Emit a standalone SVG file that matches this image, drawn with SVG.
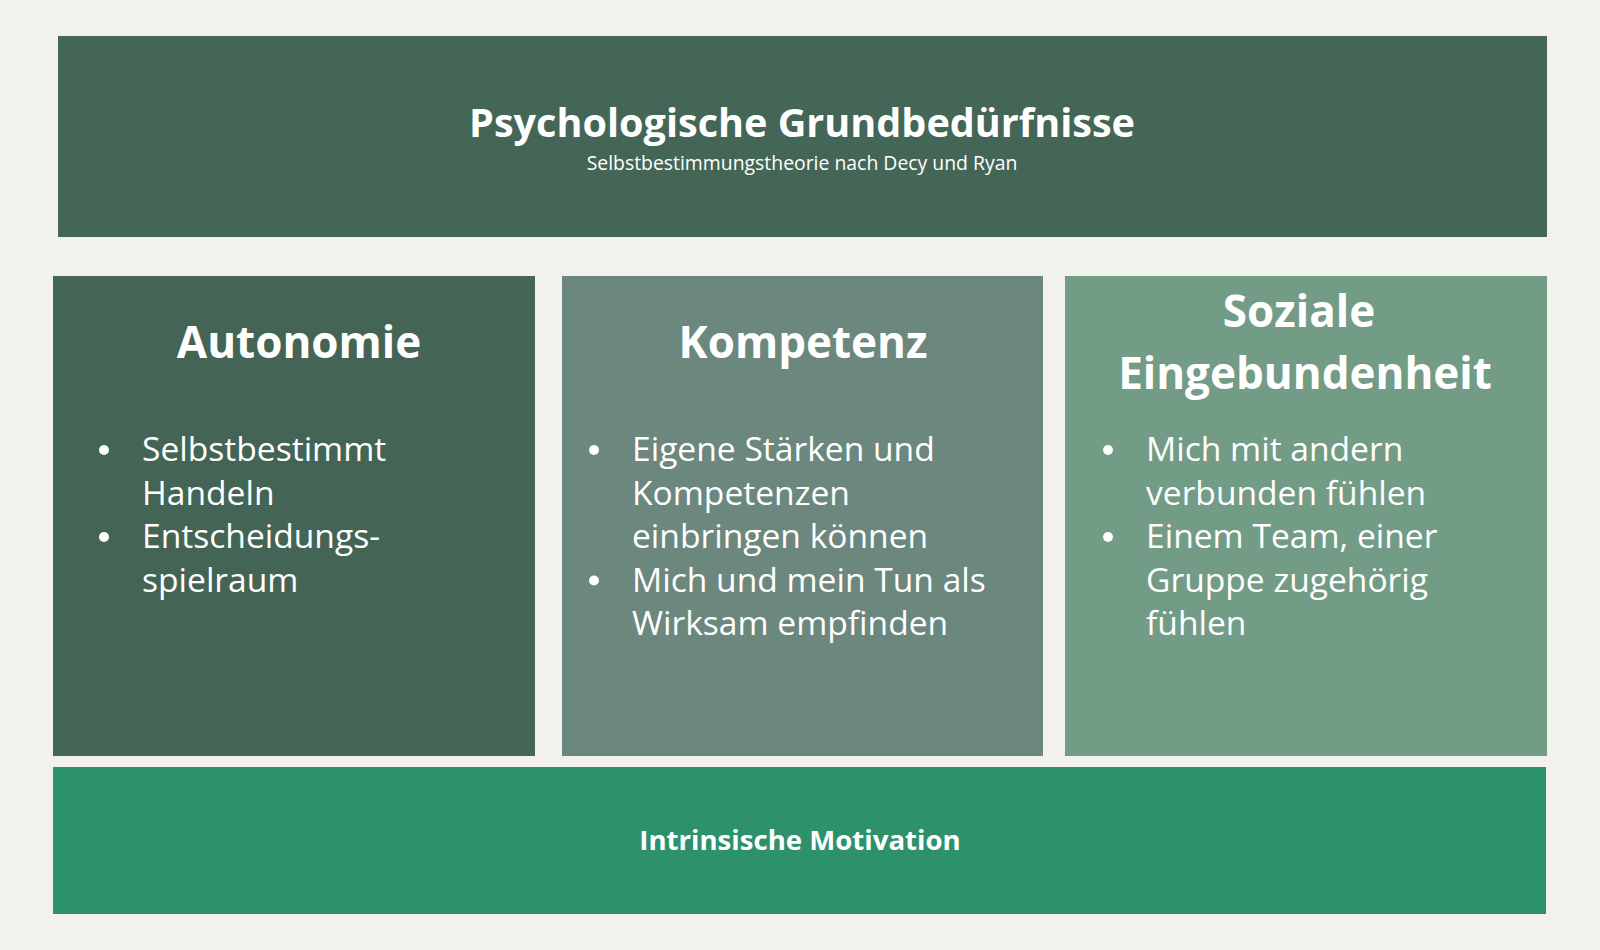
<svg xmlns="http://www.w3.org/2000/svg" width="1600" height="950" viewBox="0 0 1600 950">
  <style>
    .bg { fill: #F2F1EC; }
    .t-title { font-family: "Open Sans", "Noto Sans", "Liberation Sans", sans-serif; font-weight: 700; fill: #FFFFFF; }
    .t-sub { font-family: "Open Sans", "Noto Sans", "Liberation Sans", sans-serif; font-weight: 400; fill: #FFFFFF; }
    .t-head { font-family: "Open Sans", "Noto Sans", "Liberation Sans", sans-serif; font-weight: 700; font-size: 44px; fill: #FFFFFF; text-anchor: middle; }
    .t-body { font-family: "Open Sans", "Noto Sans", "Liberation Sans", sans-serif; font-weight: 400; font-size: 33.6px; fill: #FFFFFF; }
    .bullet { fill: #FFFFFF; }
  </style>
  <rect class="bg" x="0" y="0" width="1600" height="950"/>

  <g id="header">
    <rect x="58" y="36" width="1489" height="201" fill="#446656"/>
    <text class="t-title" x="802" y="137" font-size="39.6" text-anchor="middle">Psychologische Grundbedürfnisse</text>
    <text class="t-sub" x="802" y="170" font-size="19.4" text-anchor="middle">Selbstbestimmungstheorie nach Decy und Ryan</text>
  </g>

  <g id="autonomie">
    <rect x="53" y="276" width="482" height="480" fill="#446555"/>
    <text class="t-head" x="299" y="358">Autonomie</text>
    <circle class="bullet" cx="104" cy="450" r="5"/>
    <circle class="bullet" cx="104" cy="537" r="5"/>
    <text class="t-body" x="142" y="461">Selbstbestimmt</text>
    <text class="t-body" x="142" y="504.5">Handeln</text>
    <text class="t-body" x="142" y="548">Entscheidungs-</text>
    <text class="t-body" x="142" y="591.5">spielraum</text>
  </g>

  <g id="kompetenz">
    <rect x="562" y="276" width="481" height="480" fill="#6C877D"/>
    <text class="t-head" x="803" y="358">Kompetenz</text>
    <circle class="bullet" cx="594" cy="450" r="5"/>
    <circle class="bullet" cx="594" cy="580.5" r="5"/>
    <text class="t-body" x="632" y="461">Eigene Stärken und</text>
    <text class="t-body" x="632" y="504.5">Kompetenzen</text>
    <text class="t-body" x="632" y="548">einbringen können</text>
    <text class="t-body" x="632" y="591.5">Mich und mein Tun als</text>
    <text class="t-body" x="632" y="635">Wirksam empfinden</text>
  </g>

  <g id="soziale-eingebundenheit">
    <rect x="1065" y="276" width="482" height="480" fill="#739C87"/>
    <text class="t-head" x="1299" y="327">Soziale</text>
    <text class="t-head" x="1305" y="389">Eingebundenheit</text>
    <circle class="bullet" cx="1108" cy="450" r="5"/>
    <circle class="bullet" cx="1108" cy="537" r="5"/>
    <text class="t-body" x="1146" y="461">Mich mit andern</text>
    <text class="t-body" x="1146" y="504.5">verbunden fühlen</text>
    <text class="t-body" x="1146" y="548">Einem Team, einer</text>
    <text class="t-body" x="1146" y="591.5">Gruppe zugehörig</text>
    <text class="t-body" x="1146" y="635">fühlen</text>
  </g>

  <g id="intrinsische-motivation">
    <rect x="53" y="767" width="1493" height="147" fill="#2D916C"/>
    <text class="t-title" x="800" y="850" font-size="27.6" text-anchor="middle">Intrinsische Motivation</text>
  </g>

  <g id="connectors"></g>
</svg>
